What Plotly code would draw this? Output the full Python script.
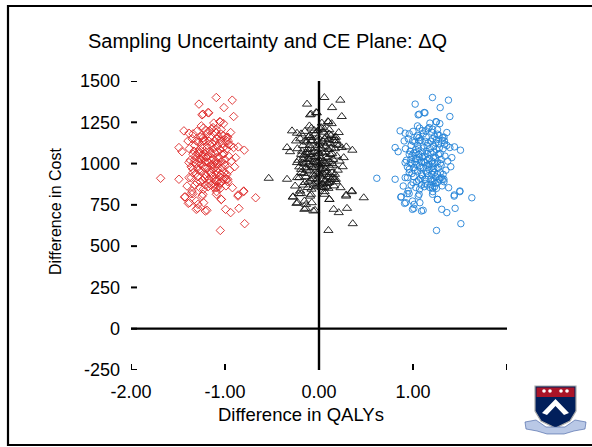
import plotly.graph_objects as go

# ---------------- data ----------------
# QALY-difference deviation of each bootstrap replicate from its scenario mean
dq_dev = [
    0.057, -0.127, 0.227, 0.139, -0.095, -0.031, 0.242, 0.100, -0.102, -0.287,
    -0.234, 0.210, 0.022, 0.135, -0.085, -0.244, -0.340, -0.308, 0.242, 0.291,
    0.355, 0.185, 0.263, -0.234, 0.252, -0.535, -0.340, -0.209, -0.280, -0.227,
    -0.138, -0.156, -0.060, 0.110, 0.156, 0.210, 0.298, 0.288, 0.348, 0.476,
    0.359, 0.100, -0.085, -0.191, 0.057, 0.163,
    -0.013, 0.058, 0.111, 0.165, 0.186, -0.155, -0.084, -0.190, -0.119, -0.172,
    -0.190, -0.233, -0.254, -0.201, -0.275, -0.212, -0.240, -0.155, -0.094, -0.077,
    -0.141, -0.042, 0.058, 0.111, 0.229, 0.179, 0.076, 0.349, 0.289, 0.094,
    -0.023, -0.084,
    -0.02, 0.05, -0.08, 0.11, -0.13, 0.03, -0.05, 0.08, -0.10, 0.14,
    0.00, -0.16, 0.06, -0.04, 0.17, -0.11, 0.09, -0.07, 0.02, 0.12,
    -0.18, 0.04, -0.01, 0.15, -0.09, 0.07, -0.14, 0.01, -0.03, 0.10,
    -0.20, 0.19, -0.06, 0.13, -0.12, 0.05, -0.00, 0.08, -0.15, 0.16,
    -0.05, 0.03, -0.10, 0.20, -0.17, 0.06, -0.02, 0.11, -0.08, 0.14,
    -0.22, 0.00, 0.07, -0.13, 0.18, -0.04, 0.09, -0.11, 0.02, -0.06,
    0.12, -0.19, 0.05, -0.01, 0.10, -0.16, 0.04, -0.09, 0.15, -0.03,
    0.01, -0.12, 0.08, -0.07, 0.13, -0.21, 0.06, -0.14, 0.17, -0.00,
    0.03, -0.10, 0.09, -0.05, 0.11, -0.17, 0.22, -0.08, 0.00, 0.07,
    -0.15, 0.04, -0.02, 0.14, -0.11, 0.16, -0.04, 0.06, -0.18, 0.10,
    -0.06, 0.02, -0.13, 0.12, -0.01, 0.05, -0.09, 0.18, -0.23, 0.08,
    -0.03, 0.01, -0.07, 0.15, -0.16, 0.09, -0.12, 0.04, -0.05, 0.13,
    -0.02, 0.06, -0.10, 0.21, -0.19, 0.00, 0.07, -0.08, 0.11, -0.14,
]
# cost difference of each replicate
cost_diff = [
    1400, 1360, 1384, 1339, 1295, 1309, 1285, 1252, 1228, 1198,
    1184, 1188, 1218, 1242, 1137, 1137, 1097, 1072, 1097, 1101,
    1081, 1137, 1036, 1006, 981, 911, 905, 915, 797, 763,
    753, 723, 713, 783, 723, 703, 729, 803, 830, 793,
    636, 595, 814, 818, 854, 905,
    1198, 1208, 1178, 1157, 1117, 1137, 1157, 1056, 1066, 1026,
    965, 915, 864, 834, 799, 818, 759, 773, 803, 763,
    729, 717, 814, 783, 854, 905, 895, 834, 810, 1254,
    1307, 1299,
    1005, 980, 1040, 1010, 960, 1090, 925, 945, 1110, 1060,
    870, 1000, 1150, 1180, 935, 890, 880, 975, 1030, 1120,
    1075, 905, 950, 990, 1055, 1070, 920, 1125, 860, 850,
    1150, 1045, 1010, 905, 1085, 1015, 990, 1165, 1195, 1140,
    1200, 1245, 1170, 960, 870, 830, 905, 935, 845, 1000,
    1020, 1060, 1105, 1130, 890, 1095, 1035, 995, 965, 935,
    975, 945, 1190, 1160, 1085, 1050, 875, 900, 1025, 1045,
    925, 1030, 1000, 1140, 1170, 980, 955, 1065, 1090, 1110,
    855, 955, 920, 1070, 1205, 1110, 1015, 1215, 1020, 1040,
    885, 1065, 1135, 945, 1160, 865, 975, 895, 1005, 1145,
    870, 995, 1010, 1055, 1075, 935, 1090, 1160, 1090, 860,
    1010, 1210, 910, 915, 940, 1125, 855, 1135, 1040, 1095,
    880, 1000, 1025, 1110, 1180, 940, 970, 985, 885, 975,
]
# mean QALY difference of each scenario
scenario_mean_dq = [-1.15, 0.0, 1.15]
scenario_names = ["ΔQ < 0", "ΔQ = 0", "ΔQ > 0"]

x_tick_vals = [-2, -1, 0, 1, 2]
x_tick_text = ["-2.00", "-1.00", "0.00", "1.00", ""]
y_tick_vals = [-250, 0, 250, 500, 750, 1000, 1250, 1500]
y_tick_text = ["-250", "0", "250", "500", "750", "1000", "1250", "1500"]

# ---------------- figure ----------------
W, H = 592, 447
L, R, T, B = 131, 85, 81, 77
FONT = "Arial, Liberation Sans, sans-serif"


def px(xp):
    return (xp - L) / (W - L - R)


def py(yp):
    return (H - B - yp) / (H - T - B)


fig = go.Figure()

# quadrant lines
fig.add_trace(go.Scatter(x=[0, 0], y=[y_tick_vals[0], y_tick_vals[-1]], mode="lines",
                         line=dict(color="black", width=2.4), showlegend=False, hoverinfo="skip"))
fig.add_trace(go.Scatter(x=[x_tick_vals[0], x_tick_vals[-1]], y=[0, 0], mode="lines",
                         line=dict(color="black", width=2.2), showlegend=False, hoverinfo="skip"))

styles = [
    dict(symbol="diamond-open", color="rgb(222,40,40)", size=6.5),
    dict(symbol="triangle-up-open", color="rgb(20,20,20)", size=8),
    dict(symbol="circle-open", color="rgb(35,130,215)", size=6.5),
]
for mean, name, st in zip(scenario_mean_dq, scenario_names, styles):
    fig.add_trace(go.Scatter(
        x=[mean + d for d in dq_dev], y=cost_diff, mode="markers", name=name,
        marker=dict(symbol=st["symbol"], size=st["size"], color=st["color"],
                    line=dict(width=0.9, color=st["color"])),
        showlegend=False,
    ))

fig.update_xaxes(range=[-2, 2], tickvals=x_tick_vals, ticktext=x_tick_text,
                 ticks="", showline=False, showgrid=False, zeroline=False,
                 tickfont=dict(family=FONT, size=18, color="black"),
                 ticklabelstandoff=9)
fig.update_yaxes(range=[-250, 1500], tickvals=y_tick_vals, ticktext=y_tick_text,
                 ticks="", showline=False, showgrid=False, zeroline=False,
                 tickfont=dict(family=FONT, size=18, color="black"),
                 ticklabelstandoff=10)

annotations = [
    dict(text="Sampling Uncertainty and CE Plane: ΔQ", x=px(267), y=py(41),
         font=dict(family=FONT, size=20, color="black")),
    dict(text="Difference in QALYs", x=px(301), y=py(414),
         font=dict(family=FONT, size=18.5, color="black")),
    dict(text="Difference in Cost", x=px(56), y=py(212), textangle=-90,
         font=dict(family=FONT, size=16, color="black")),
]
for a in annotations:
    a.update(xref="paper", yref="paper", showarrow=False, xanchor="center", yanchor="middle")


def path(points):
    return "M " + " L ".join(f"{px(a):.5f},{py(b):.5f}" for a, b in points) + " Z"


shapes = []
# tick marks pointing into the plot (drawn from the axis scales, pixel-sized)
for v in y_tick_vals:
    shapes.append(dict(type="line", xref="x", yref="y", xsizemode="pixel", xanchor=x_tick_vals[0],
                       x0=0, x1=6, y0=v, y1=v, line=dict(color="black", width=2), layer="above"))
for v in x_tick_vals:
    shapes.append(dict(type="line", xref="x", yref="y", ysizemode="pixel", yanchor=y_tick_vals[0],
                       x0=v, x1=v, y0=0, y1=6, line=dict(color="black", width=2), layer="above"))

shapes += [
    # page frame
    dict(type="rect", xref="paper", yref="paper", x0=px(8), x1=px(600), y0=py(6), y1=py(445),
         line=dict(color="black", width=2.2)),
    # small shield logo
    dict(type="path", xref="paper", yref="paper",
         path=path([(535, 386), (576, 386), (576, 411), (570, 421), (555.5, 428), (541, 421), (535, 411)]),
         fillcolor="rgb(1,31,91)", line=dict(color="rgb(170,170,170)", width=1.2)),
    dict(type="rect", xref="paper", yref="paper", x0=px(536.5), x1=px(574.5), y0=py(387.5), y1=py(397),
         fillcolor="rgb(170,20,40)", line=dict(width=0)),
    dict(type="path", xref="paper", yref="paper",
         path=path([(555.5, 399), (569, 413), (564, 415), (555.5, 406), (547, 415), (542, 413)]),
         fillcolor="white", line=dict(width=0)),
    dict(type="path", xref="paper", yref="paper",
         path=path([(525, 422), (536, 420), (546, 427), (565, 427), (575, 420), (586, 422),
                    (585, 429), (574, 431), (564, 434), (547, 434), (537, 431), (526, 429)]),
         fillcolor="rgb(185,200,230)", line=dict(color="rgb(60,90,160)", width=0.6)),
]
for cx, cy in [(544, 391), (550, 391), (561, 391), (567, 391)]:
    shapes.append(dict(type="circle", xref="paper", yref="paper",
                       x0=px(cx - 1.8), x1=px(cx + 1.8), y0=py(cy - 1.8), y1=py(cy + 1.8),
                       fillcolor="white", line=dict(width=0)))

fig.update_layout(
    width=W, height=H, margin=dict(l=L, r=R, t=T, b=B, autoexpand=False),
    paper_bgcolor="white", plot_bgcolor="white",
    annotations=annotations, shapes=shapes, showlegend=False,
)

fig.write_html("out.html")
